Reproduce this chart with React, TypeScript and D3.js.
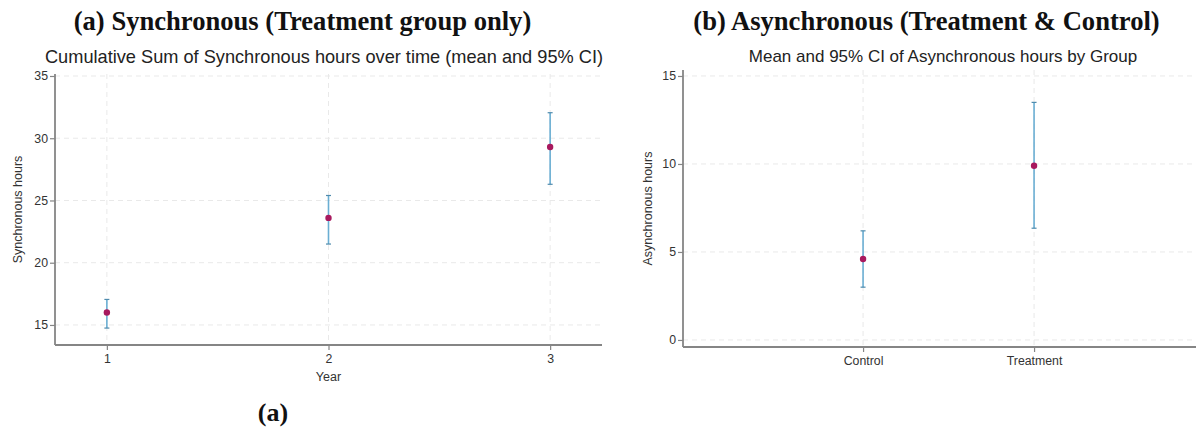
import React, { useEffect, useRef } from 'react';
import * as d3 from 'd3';

// panel (a): cumulative synchronous hours by year, treatment group
const years = [1, 2, 3];
const syncMean = [16.0, 23.6, 29.3];
const syncLow = [14.75, 21.5, 26.3];
const syncHigh = [17.05, 25.4, 32.05];
const syncTicks = [15, 20, 25, 30, 35];

// panel (b): asynchronous hours by group
const groups = ['Control', 'Treatment'];
const asyncMean = [4.6, 9.9];
const asyncLow = [3.0, 6.35];
const asyncHigh = [6.2, 13.5];
const asyncTicks = [0, 5, 10, 15];

const W = 1196;
const H = 430;
const SANS = '"Liberation Sans", Arial, sans-serif';
const SERIF = '"Liberation Serif", "Times New Roman", serif';
const AXIS_COL = '#858585';
const GRID_COL = '#e9e9e9';
const BAR_COL = '#6aaed3';
const DOT_COL = '#a8195e';

type Panel = {
  x: d3.ScaleLinear<number, number>;
  y: d3.ScaleLinear<number, number>;
  xTicks: number[];
  xLabels: string[];
  yTicks: number[];
  mean: number[];
  low: number[];
  high: number[];
  yTitle: string;
  yTitleOffset: number;
  xTitle?: string;
};

function drawPanel(svg: d3.Selection<SVGSVGElement, unknown, null, undefined>, p: Panel) {
  const [x0, x1] = p.x.range();
  const [y0, y1] = p.y.range(); // y0 bottom, y1 top
  const g = svg.append('g');

  // grid
  g.selectAll('line.hgrid').data(p.yTicks).enter().append('line')
    .attr('x1', x0).attr('x2', x1).attr('y1', d => p.y(d)).attr('y2', d => p.y(d))
    .attr('stroke', GRID_COL).attr('stroke-width', 1).attr('stroke-dasharray', '5,4');
  g.selectAll('line.vgrid').data(p.xTicks).enter().append('line')
    .attr('x1', d => p.x(d)).attr('x2', d => p.x(d)).attr('y1', y1).attr('y2', y0)
    .attr('stroke', GRID_COL).attr('stroke-width', 1).attr('stroke-dasharray', '5,4');

  // axes
  const yAxis = d3.axisLeft(p.y).tickValues(p.yTicks).tickSize(5).tickPadding(2);
  const ya = g.append('g').attr('transform', `translate(${x0},0)`).call(yAxis);
  const xAxis = d3.axisBottom(p.x).tickValues(p.xTicks).tickSize(5).tickPadding(4)
    .tickFormat((d, i) => p.xLabels[i]);
  const xa = g.append('g').attr('transform', `translate(0,${y0})`).call(xAxis);
  [ya, xa].forEach(a => {
    a.select('.domain').remove();
    a.selectAll('line').attr('stroke', AXIS_COL).attr('stroke-width', 1.2);
    a.selectAll('text').attr('fill', '#333').attr('font-size', 12.3).attr('font-family', SANS);
  });
  g.append('line').attr('x1', x0).attr('x2', x0).attr('y1', y0).attr('y2', y1)
    .attr('stroke', AXIS_COL).attr('stroke-width', 1.8);
  g.append('line').attr('x1', x0).attr('x2', x1).attr('y1', y0).attr('y2', y0)
    .attr('stroke', AXIS_COL).attr('stroke-width', 1.8);

  // error bars
  const idx = p.mean.map((_, i) => i);
  g.selectAll('line.ci').data(idx).enter().append('line')
    .attr('x1', i => p.x(p.xTicks[i])).attr('x2', i => p.x(p.xTicks[i]))
    .attr('y1', i => p.y(p.low[i])).attr('y2', i => p.y(p.high[i]))
    .attr('stroke', BAR_COL).attr('stroke-width', 1.6);
  [p.low, p.high].forEach(arr => {
    g.selectAll(null).data(idx).enter().append('line')
      .attr('x1', i => p.x(p.xTicks[i]) - 2.5).attr('x2', i => p.x(p.xTicks[i]) + 2.5)
      .attr('y1', i => p.y(arr[i])).attr('y2', i => p.y(arr[i]))
      .attr('stroke', '#4f8bad').attr('stroke-width', 1.2);
  });
  g.selectAll('circle').data(idx).enter().append('circle')
    .attr('cx', i => p.x(p.xTicks[i])).attr('cy', i => p.y(p.mean[i])).attr('r', 3.2)
    .attr('fill', DOT_COL);

  // axis titles
  g.append('text').attr('transform', `translate(${x0 - p.yTitleOffset},${(y0 + y1) / 2}) rotate(-90)`)
    .attr('text-anchor', 'middle').attr('font-size', 12.5).attr('font-family', SANS)
    .attr('fill', '#333').text(p.yTitle);
  if (p.xTitle) {
    g.append('text').attr('x', p.x(2)).attr('y', y0 + 36).attr('text-anchor', 'middle')
      .attr('font-size', 12.5).attr('font-family', SANS).attr('fill', '#333').text(p.xTitle);
  }
}

export default function App() {
  const ref = useRef<SVGSVGElement>(null);

  useEffect(() => {
    if (!ref.current) return;
    const svg = d3.select(ref.current);
    svg.selectAll('*').remove();

    const xa = d3.scaleLinear().domain([0.766, 3.234]).range([55, 602]);
    const ya = d3.scaleLinear().domain([13.39, 35.16]).range([345, 74]);
    drawPanel(svg, {
      x: xa, y: ya, xTicks: years, xLabels: years.map(String), yTicks: syncTicks,
      mean: syncMean, low: syncLow, high: syncHigh,
      yTitle: 'Synchronous hours', yTitleOffset: 33, xTitle: 'Year'
    });

    const xb = d3.scaleLinear().domain([-0.053, 2.947]).range([683, 1196]);
    const yb = d3.scaleLinear().domain([-0.4, 15.34]).range([347, 70]);
    drawPanel(svg, {
      x: xb, y: yb, xTicks: [1, 2], xLabels: groups, yTicks: asyncTicks,
      mean: asyncMean, low: asyncLow, high: asyncHigh,
      yTitle: 'Asynchronous hours', yTitleOffset: 31
    });

    // headings
    svg.append('text').attr('x', 302.5).attr('y', 30).attr('text-anchor', 'middle')
      .attr('font-family', SERIF).attr('font-weight', 700).attr('font-size', 26.6).attr('fill', '#111')
      .text('(a) Synchronous (Treatment group only)');
    svg.append('text').attr('x', 926.5).attr('y', 30).attr('text-anchor', 'middle')
      .attr('font-family', SERIF).attr('font-weight', 700).attr('font-size', 26.6).attr('fill', '#111')
      .text('(b) Asynchronous (Treatment & Control)');
    svg.append('text').attr('x', 324).attr('y', 63).attr('text-anchor', 'middle')
      .attr('font-family', SANS).attr('font-size', 18.2).attr('fill', '#222')
      .text('Cumulative Sum of Synchronous hours over time (mean and 95% CI)');
    svg.append('text').attr('x', 943).attr('y', 62).attr('text-anchor', 'middle')
      .attr('font-family', SANS).attr('font-size', 17).attr('fill', '#222')
      .text('Mean and 95% CI of Asynchronous hours by Group');
    svg.append('text').attr('x', 273).attr('y', 421).attr('text-anchor', 'middle')
      .attr('font-family', SERIF).attr('font-weight', 700).attr('font-size', 26).attr('fill', '#111')
      .text('(a)');
  }, []);

  return (
    <div style={{ position: 'absolute', left: 0, top: 0, width: W, height: H, background: '#fff' }}>
      <svg ref={ref} width={W} height={H} />
    </div>
  );
}
